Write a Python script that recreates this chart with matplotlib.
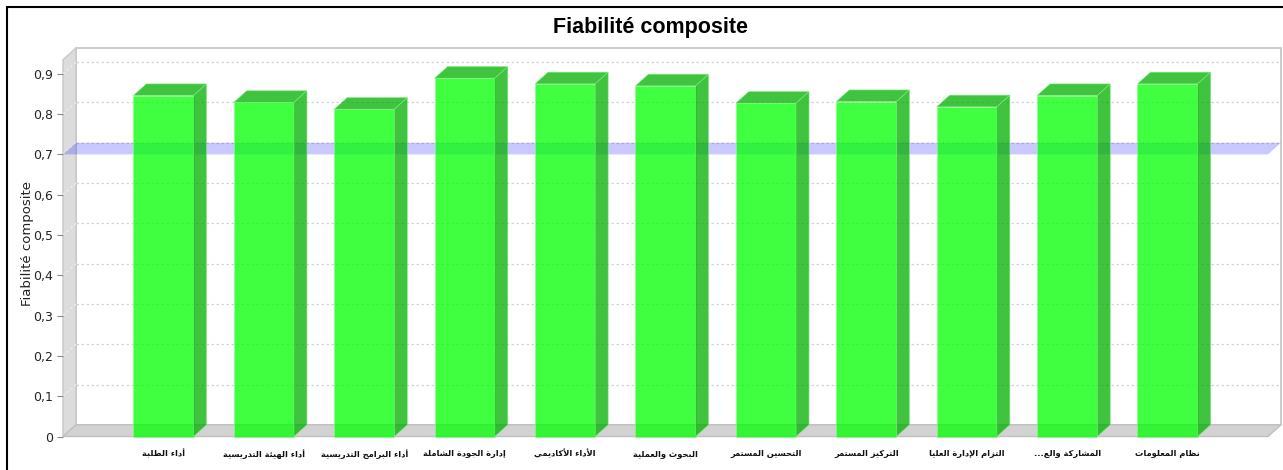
import matplotlib
matplotlib.use("Agg")
import matplotlib.pyplot as plt
from matplotlib.patches import Polygon, Rectangle
from matplotlib.lines import Line2D

# ---------------- data ----------------
categories = ["أداء الطلبة", "أداء الهيئة التدريسية", "أداء البرامج التدريسية",
              "إدارة الجودة الشاملة", "الأداء الأكاديمي", "البحوث والعملية",
              "التحسين المستمر", "التركيز المستمر", "التزام الإدارة العليا",
              "المشاركة والع...", "نظام المعلومات"]
values = [0.846, 0.829, 0.812, 0.889, 0.875, 0.870, 0.827, 0.831, 0.818, 0.846, 0.875]
threshold = 0.7
yticks = [0, 0.1, 0.2, 0.3, 0.4, 0.5, 0.6, 0.7, 0.8, 0.9]
ytick_labels = ["0", "0,1", "0,2", "0,3", "0,4", "0,5", "0,6", "0,7", "0,8", "0,9"]
title = "Fiabilité composite"
ylabel = "Fiabilité composite"

# ---------------- minimal Arabic shaping ----------------
DUAL = {'ئ': 0xFE89, 'ب': 0xFE8F, 'ت': 0xFE95, 'ث': 0xFE99, 'ج': 0xFE9D, 'ح': 0xFEA1,
        'خ': 0xFEA5, 'س': 0xFEB1, 'ش': 0xFEB5, 'ص': 0xFEB9, 'ض': 0xFEBD, 'ط': 0xFEC1,
        'ظ': 0xFEC5, 'ع': 0xFEC9, 'غ': 0xFECD, 'ف': 0xFED1, 'ق': 0xFED5, 'ك': 0xFED9,
        'ل': 0xFEDD, 'م': 0xFEE1, 'ن': 0xFEE5, 'ه': 0xFEE9, 'ي': 0xFEF1}
RIGHT = {'آ': 0xFE81, 'أ': 0xFE83, 'ؤ': 0xFE85, 'إ': 0xFE87, 'ا': 0xFE8D, 'ة': 0xFE93,
         'د': 0xFEA9, 'ذ': 0xFEAB, 'ر': 0xFEAD, 'ز': 0xFEAF, 'و': 0xFEED, 'ى': 0xFEEF}
NONJ = {'ء': 0xFE80}
LAMALEF = {'آ': 0xFEF5, 'أ': 0xFEF7, 'إ': 0xFEF9, 'ا': 0xFEFB}


def shape_ar(s):
    out = []
    n = len(s)
    i = 0
    while i < n:
        c = s[i]
        prev = s[i - 1] if i > 0 else ''
        joins_prev = prev in DUAL
        if c == 'ل' and i + 1 < n and s[i + 1] in LAMALEF:
            base = LAMALEF[s[i + 1]]
            out.append(chr(base + (1 if joins_prev else 0)))
            i += 2
            continue
        nxt = s[i + 1] if i + 1 < n else ''
        joins_next = nxt in DUAL or nxt in RIGHT
        if c in DUAL:
            b = DUAL[c]
            if joins_prev and joins_next:
                out.append(chr(b + 3))
            elif joins_prev:
                out.append(chr(b + 1))
            elif joins_next:
                out.append(chr(b + 2))
            else:
                out.append(chr(b))
        elif c in RIGHT:
            b = RIGHT[c]
            out.append(chr(b + 1) if joins_prev else chr(b))
        elif c in NONJ:
            out.append(chr(NONJ[c]))
        else:
            out.append(c)
        i += 1
    return ''.join(out)[::-1]


# ---------------- figure ----------------
W, H = 1283, 470
fig = plt.figure(figsize=(W / 100, H / 100), dpi=100)

x_left_px, x_right_px = 63, 1268
y0_px = 436.5            # pixel row of value 0 (from top)
px_per_unit = 403.0      # pixels per 1.0 value
ytop = 0.935
ax = fig.add_axes([x_left_px / W, (H - y0_px) / H,
                   (x_right_px - x_left_px) / W, ytop * px_per_unit / H])
n = len(categories)
xmin, xmax = -1, n
ax.set_xlim(xmin, xmax)
ax.set_ylim(0, ytop)
for s in ax.spines.values():
    s.set_visible(False)
ax.patch.set_visible(False)

px_per_cat = (x_right_px - x_left_px) / (xmax - xmin)
dx = 13.0 / px_per_cat
dy = 11.7 / px_per_unit

# back wall
ax.add_patch(Rectangle((xmin + dx, dy), (xmax - xmin), ytop, facecolor='white',
                       edgecolor='#c4c4c4', lw=1.2, zorder=0, clip_on=False))
# left wall
ax.add_patch(Polygon([(xmin, 0), (xmin + dx, dy), (xmin + dx, ytop + dy), (xmin, ytop)],
                     closed=True, facecolor='#dcdcdc', edgecolor='#c8c8c8', lw=1,
                     zorder=1, clip_on=False))
# floor
ax.add_patch(Polygon([(xmin, 0), (xmax, 0), (xmax + dx, dy), (xmin + dx, dy)],
                     closed=True, facecolor='#d2d2d2', edgecolor='#c0c0c0', lw=1,
                     zorder=1, clip_on=False))
# grid lines
for v in yticks[1:]:
    ax.add_line(Line2D([xmin + dx, xmax + dx], [v + dy, v + dy], color='#d4d4d4',
                       lw=0.9, ls=(0, (2, 2)), zorder=0.5, clip_on=False))
    ax.add_line(Line2D([xmin, xmin + dx], [v, v + dy], color='#eeeeee',
                       lw=0.9, ls=(0, (2, 2)), zorder=1.5, clip_on=False))

# threshold band (behind the bars)
ax.add_patch(Polygon([(xmin, threshold), (xmax, threshold), (xmax + dx, threshold + dy),
                      (xmin + dx, threshold + dy)], closed=True, facecolor='#0000ff',
                     edgecolor='none', alpha=0.21, zorder=2, clip_on=False))

# bars
xs = list(range(n))
bw = 0.6
front_col = '#00ff00'
side_col = '#00b000'
ax.bar(xs, values, width=bw, color=front_col, edgecolor='#88ff88', lw=0.5,
       alpha=0.75, zorder=3, clip_on=False)
for x, v in zip(xs, values):
    l, r = x - bw / 2, x + bw / 2
    ax.add_patch(Polygon([(l, v), (r, v), (r + dx, v + dy), (l + dx, v + dy)], closed=True,
                         facecolor=side_col, edgecolor='#88ee88', lw=0.5, alpha=0.75,
                         zorder=3, clip_on=False))
    ax.add_patch(Polygon([(r, 0), (r + dx, dy), (r + dx, v + dy), (r, v)], closed=True,
                         facecolor=side_col, edgecolor='#88ee88', lw=0.5, alpha=0.75,
                         zorder=3, clip_on=False))

# axes ticks
ax.set_yticks(yticks)
ax.set_yticklabels(ytick_labels, fontsize=9, family=['DejaVu Sans'], color='#222222')
ax.tick_params(axis='y', length=4, width=0.8, color='#888888', pad=3)
ax.set_xticks(xs)
ax.set_xticklabels([shape_ar(c) for c in categories], fontsize=6,
                   family=['DejaVu Sans'], fontweight='bold', color='#111111')
ax.tick_params(axis='x', length=0, pad=9)

fig.text(27 / W, 1 - 243 / H, ylabel, rotation=90, ha='center', va='center',
         fontsize=9.5, family=['DejaVu Sans'], color='#222222')

fig.text(650 / W, 1 - 27 / H, title, ha='center', va='center', fontsize=15.5,
         fontweight='bold', family=['Liberation Sans Narrow', 'Liberation Sans', 'DejaVu Sans'])

# outer frame
fig.patches.append(Rectangle((7 / W, -0.02), 1.1, 1 - 6.5 / H + 0.02, transform=fig.transFigure,
                             fill=False, edgecolor='black', lw=1.5, zorder=10))

fig.savefig('out.png', dpi=100)
